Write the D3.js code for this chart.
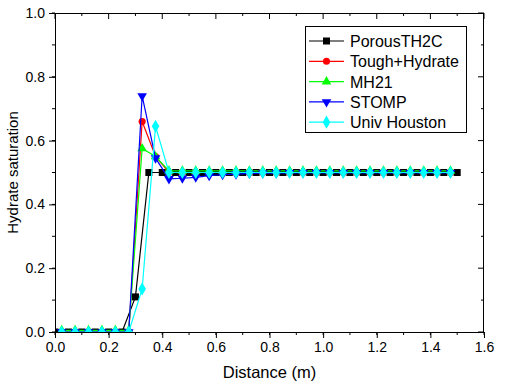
<!DOCTYPE html>
<html><head><meta charset="utf-8">
<script src="https://cdn.jsdelivr.net/npm/d3@7"></script>
<style>body{margin:0;background:#fff;}svg{display:block;font-family:"Liberation Sans",Arial,sans-serif;}</style>
</head><body>
<svg id="c" width="506" height="392"></svg>
<script>
// Data
const xNodes = [0.00,0.05,0.10,0.15,0.20,0.25,0.30,0.35,0.40,0.45,0.50,0.55,0.60,0.65,0.70,0.75,0.80,0.85,0.90,0.95,1.00,1.05,1.10,1.15,1.20,1.25,1.30,1.35,1.40,1.45,1.50];
const xCells = [0.025,0.075,0.125,0.175,0.225,0.275,0.325,0.375,0.425,0.475,0.525,0.575,0.625,0.675,0.725,0.775,0.825,0.875,0.925,0.975,1.025,1.075,1.125,1.175,1.225,1.275,1.325,1.375,1.425,1.475];
const porousTH2C = [0,0,0,0,0,0,0.11,0.5,0.5,0.5,0.5,0.5,0.5,0.5,0.5,0.5,0.5,0.5,0.5,0.5,0.5,0.5,0.5,0.5,0.5,0.5,0.5,0.5,0.5,0.5,0.5];
const toughHydrate = [0,0,0,0,0,0,0.66,0.55,0.5,0.5,0.5,0.5,0.5,0.5,0.5,0.5,0.5,0.5,0.5,0.5,0.5,0.5,0.5,0.5,0.5,0.5,0.5,0.5,0.5,0.5];
const mh21 = [0.005,0.005,0.005,0.005,0.005,0.005,0.575,0.55,0.505,0.505,0.505,0.505,0.505,0.505,0.505,0.505,0.505,0.505,0.505,0.505,0.505,0.505,0.505,0.505,0.505,0.505,0.505,0.505,0.505,0.505];
const stomp = [0,0,0,0,0,0,0.74,0.545,0.48,0.482,0.485,0.49,0.493,0.495,0.497,0.498,0.498,0.499,0.499,0.499,0.499,0.499,0.499,0.499,0.499,0.499,0.499,0.499,0.499,0.499];
const univHouston = [0,0,0,0,0,0,0.135,0.645,0.5,0.5,0.5,0.5,0.5,0.5,0.5,0.5,0.5,0.5,0.5,0.5,0.5,0.5,0.5,0.5,0.5,0.5,0.5,0.5,0.5,0.5];
const seriesNames = ["PorousTH2C","Tough+Hydrate","MH21","STOMP","Univ Houston"];
const xTicks = [0,0.2,0.4,0.6,0.8,1.0,1.2,1.4,1.6];
const yTicks = [0,0.2,0.4,0.6,0.8,1.0];

const series = [
  {name: seriesNames[0], xs: xNodes, ys: porousTH2C, color: "#000000", sym: d3.symbolSquare, size: 49, rot: 0},
  {name: seriesNames[1], xs: xCells, ys: toughHydrate, color: "#ff0000", sym: d3.symbolCircle, size: 40, rot: 0},
  {name: seriesNames[2], xs: xCells, ys: mh21, color: "#00ff00", sym: d3.symbolTriangle, size: 40, rot: 0},
  {name: seriesNames[3], xs: xCells, ys: stomp, color: "#0000ff", sym: d3.symbolTriangle, size: 40, rot: 180},
  {name: seriesNames[4], xs: xCells, ys: univHouston, color: "#00ffff", sym: d3.symbolDiamond, size: 50, rot: 0}
];

const L = 55, R = 484, T = 13, B = 332;
const x = d3.scaleLinear().domain([0,1.6]).range([L,R]);
const y = d3.scaleLinear().domain([0,1]).range([B,T]);
const svg = d3.select("#c");

svg.append("defs").append("clipPath").attr("id","pc")
  .append("rect").attr("x",L).attr("y",T).attr("width",R-L).attr("height",B-T);

const g = svg.append("g").attr("clip-path","url(#pc)");
series.forEach(s => {
  const pts = s.xs.map((v,i)=>[v,s.ys[i]]);
  g.append("path").datum(pts)
    .attr("fill","none").attr("stroke",s.color).attr("stroke-width",1.2)
    .attr("d", d3.line().x(d=>x(d[0])).y(d=>y(d[1])));
  g.selectAll(null).data(pts).enter().append("path")
    .attr("d", d3.symbol().type(s.sym).size(s.size))
    .attr("transform", d=>`translate(${x(d[0])},${y(d[1])}) rotate(${s.rot})`)
    .attr("fill", s.color);
});

// Axes
const xMinor = d3.range(0,1.61,0.1);
const yMinor = d3.range(0,1.01,0.1);
const bottom = d3.axisBottom(x).tickValues(xTicks).tickFormat(d3.format(".1f")).tickSize(6).tickPadding(4);
const left = d3.axisLeft(y).tickValues(yTicks).tickFormat(d3.format(".1f")).tickSize(6).tickPadding(4);
const gx = svg.append("g").attr("transform",`translate(0,${B})`).call(bottom);
const gy = svg.append("g").attr("transform",`translate(${L},0)`).call(left);
[gx,gy].forEach(a=>{
  a.select(".domain").remove();
  a.selectAll("text").attr("font-size",14).attr("fill","#000").attr("font-family","Liberation Sans, Arial, sans-serif");
  a.selectAll("line").attr("stroke","#000");
});
// minor ticks
svg.append("g").selectAll("line").data(xMinor).enter().append("line")
  .attr("x1",d=>x(d)).attr("x2",d=>x(d)).attr("y1",B).attr("y2",B+3).attr("stroke","#000");
svg.append("g").selectAll("line").data(yMinor).enter().append("line")
  .attr("y1",d=>y(d)).attr("y2",d=>y(d)).attr("x1",L).attr("x2",L-3).attr("stroke","#000");
// top and right mirrored inward ticks
svg.append("g").selectAll("line").data(xMinor).enter().append("line")
  .attr("x1",d=>x(d)).attr("x2",d=>x(d)).attr("y1",T).attr("y2",d=>T+(xTicks.some(t=>Math.abs(t-d)<1e-6)?6:3)).attr("stroke","#000");
svg.append("g").selectAll("line").data(yMinor).enter().append("line")
  .attr("y1",d=>y(d)).attr("y2",d=>y(d)).attr("x1",R).attr("x2",d=>R-(yTicks.some(t=>Math.abs(t-d)<1e-6)?6:3)).attr("stroke","#000");
// frame
svg.append("rect").attr("x",L+0.5).attr("y",T+0.5).attr("width",R-L-1).attr("height",B-T)
  .attr("fill","none").attr("stroke","#000").attr("stroke-width",1);

// Axis titles
svg.append("text").attr("x",(L+R)/2).attr("y",378).attr("text-anchor","middle")
  .attr("font-size",16.5).text("Distance (m)");
svg.append("text").attr("transform",`translate(18,${(T+B)/2}) rotate(-90)`).attr("text-anchor","middle")
  .attr("font-size",15).text("Hydrate saturation");

// Legend
const lg = svg.append("g");
lg.append("rect").attr("x",305.5).attr("y",26.5).attr("width",161).attr("height",106)
  .attr("fill","#fff").attr("stroke","#000").attr("stroke-width",1);
series.forEach((s,i)=>{
  const yy = 41 + i*20.3;
  lg.append("line").attr("x1",309).attr("x2",344).attr("y1",yy).attr("y2",yy).attr("stroke",s.color).attr("stroke-width",1.2);
  lg.append("path").attr("d", d3.symbol().type(s.sym).size(s.size))
    .attr("transform",`translate(326.5,${yy}) rotate(${s.rot})`).attr("fill",s.color);
  lg.append("text").attr("x",350).attr("y",yy+6).attr("font-size",16).text(s.name);
});
</script>
</body></html>
